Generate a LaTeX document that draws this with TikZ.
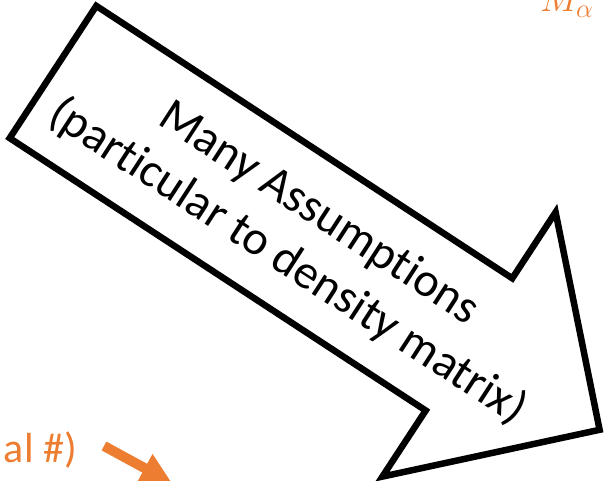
\documentclass[tikz,border=0pt]{standalone}
\usepackage{fix-cm}
\usepackage{fontspec}
\newfontfamily\calibri[Ligatures={NoCommon}]{Carlito}
\usetikzlibrary{arrows.meta}
\definecolor{accent}{HTML}{ED7D31}
\begin{document}
\begin{tikzpicture}[x=1pt,y=-1pt]
  % canvas
  \clip (0,0) rectangle (605,481);
  % big block arrow
  \draw[line width=6.5pt,line join=miter] (96.3,5.9) -- (512.3,278.3) -- (555.6,212.2)
    -- (599.6,429.8) -- (382.4,476.6) -- (425.7,410.5) -- (9.7,138.1) -- cycle;
  % text along the arrow
  \node[rotate=-33,align=center,inner sep=0pt,
    font=\calibri\fontsize{48}{58}\selectfont] (assume) at (303,238)
    {Many Assumptions\\(particular to density matrix)};
  % orange labels
  \node[anchor=base west,inner sep=0pt,text=accent,font=\fontsize{38}{40}\selectfont]
    (malpha) at (540,12) {$M_\alpha$};
  \node[anchor=base east,inner sep=0pt,text=accent,font=\calibri\fontsize{42}{50}\selectfont]
    (num) at (77,462) {al \#)};
  % small orange arrow
  \coordinate (src) at (104,446);
  \coordinate (dst) at (172,483);
  \draw[accent,line width=10pt,-{Triangle[length=31pt,width=30pt]}] (src) -- (dst);
\end{tikzpicture}
\end{document}
